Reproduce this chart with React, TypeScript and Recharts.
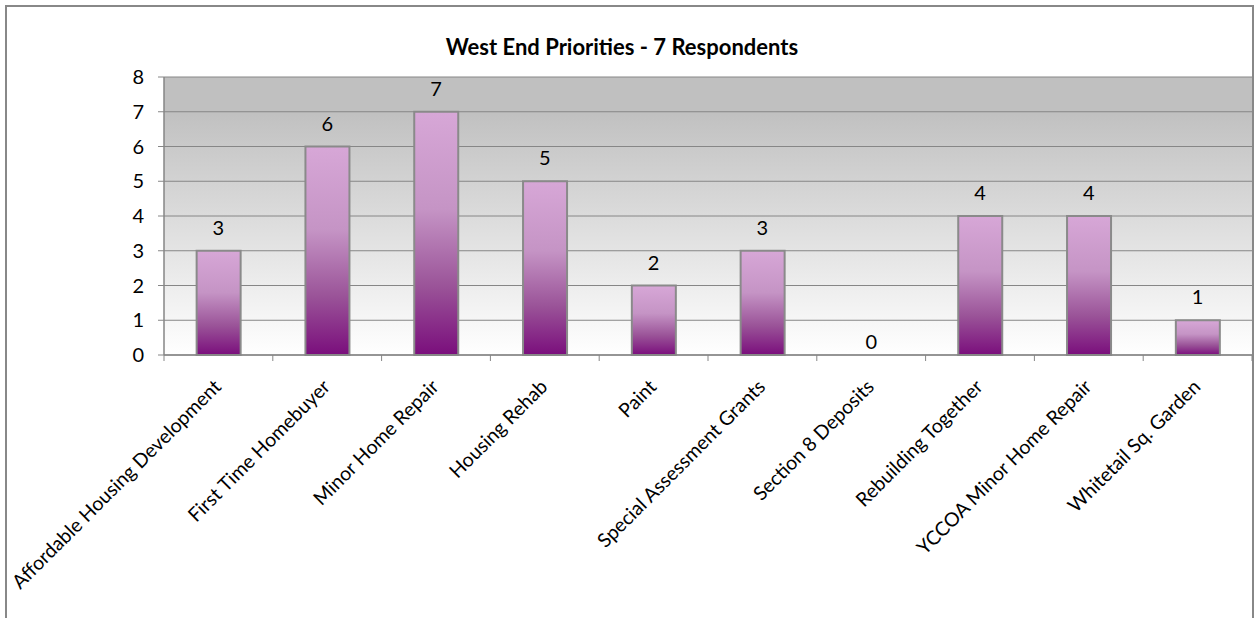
import { Bar, CartesianGrid, ComposedChart, LabelList, Scatter, XAxis, YAxis } from 'recharts';

const categories = [
  'Affordable Housing Development',
  'First Time Homebuyer',
  'Minor Home Repair',
  'Housing Rehab',
  'Paint',
  'Special Assessment Grants',
  'Section 8 Deposits',
  'Rebuilding Together',
  'YCCOA Minor Home Repair',
  'Whitetail Sq. Garden',
];
const responses = [3, 6, 7, 5, 2, 3, 0, 4, 4, 1];
const yTicks = [0, 1, 2, 3, 4, 5, 6, 7, 8];

const data = categories.map((name, i) => ({ name, value: responses[i] }));

const W = 1254;
const H = 618;
const MARGIN = { top: 77, right: 2, bottom: 233, left: 104 };
const Y_WIDTH = 60;
const X_HEIGHT = 30;
const FONT = 'Lato, "Open Sans", sans-serif';
const AXIS = '#868686';

const plotWidth = W - MARGIN.left - Y_WIDTH - MARGIN.right;
const band = plotWidth / categories.length;

// etiqueta inclinada + marca de separación entre categorías
function SlantTick(props: any) {
  const { x, y, payload, index } = props;
  const left = x - band / 2;
  const tx = x + 4;
  const ty = y + 33;
  return (
    <g>
      <line x1={left} y1={y} x2={left} y2={y + 6} stroke={AXIS} strokeWidth={1} />
      {index === categories.length - 1 && (
        <line x1={x + band / 2} y1={y} x2={x + band / 2} y2={y + 6} stroke={AXIS} strokeWidth={1} />
      )}
      <text
        x={tx}
        y={ty}
        textAnchor="end"
        fontSize={19.5}
        fontFamily={FONT}
        fill="#000"
        transform={`rotate(-45 ${tx} ${ty})`}
      >
        {payload.value}
      </text>
    </g>
  );
}

// valor sobre la barra; el 0 queda pegado al eje como en el original
function ValueLabel(props: any) {
  const { x, y, width, height, value } = props;
  const cx = x + width / 2;
  const cy = y + height / 2;
  const gap = value === 0 ? 6 : 16;
  return (
    <text x={cx} y={cy - gap} textAnchor="middle" fontSize={20} fontFamily={FONT} fill="#000">
      {value}
    </text>
  );
}

export default function App() {
  return (
    <div style={{ position: 'absolute', left: 0, top: 0, width: W, height: H, overflow: 'hidden', background: '#fff' }}>
      <div
        style={{
          position: 'absolute',
          left: 5,
          top: 5,
          width: 1245,
          height: 700,
          border: '2px solid #888',
        }}
      />
      <ComposedChart
        width={W}
        height={H}
        data={data}
        margin={MARGIN}
        barCategoryGap="30%"
        style={{ position: 'absolute', left: 0, top: 0 }}
      >
        <defs>
          <linearGradient id="plotBg" x1="0" y1="0" x2="0" y2="1">
            <stop offset="0%" stopColor="#c0c0c0" />
            <stop offset="12%" stopColor="#c0c0c0" />
            <stop offset="100%" stopColor="#ffffff" />
          </linearGradient>
          <linearGradient id="barFill" x1="0" y1="0" x2="0" y2="1">
            <stop offset="0%" stopColor="#d7a7d7" />
            <stop offset="40%" stopColor="#c594c5" />
            <stop offset="72%" stopColor="#9a5398" />
            <stop offset="100%" stopColor="#7a0e7c" />
          </linearGradient>
        </defs>
        <text x={622} y={55} textAnchor="middle" fontSize={22} fontWeight="bold" fontFamily={FONT} fill="#000">
          West End Priorities - 7 Respondents
        </text>
        <CartesianGrid vertical={false} stroke={AXIS} fill="url(#plotBg)" fillOpacity={1} />
        <XAxis
          dataKey="name"
          height={X_HEIGHT}
          interval={0}
          tickLine={false}
          tickSize={0}
          tickMargin={0}
          axisLine={{ stroke: AXIS, strokeWidth: 1.5 }}
          tick={<SlantTick />}
        />
        <YAxis
          width={Y_WIDTH}
          domain={[0, 8]}
          ticks={yTicks}
          interval={0}
          tickSize={6}
          tickMargin={14}
          axisLine={{ stroke: AXIS, strokeWidth: 1.5 }}
          tickLine={{ stroke: AXIS }}
          tick={{ fontSize: 20, fontFamily: FONT, fill: '#000' }}
        />
        <Bar dataKey="value" fill="url(#barFill)" stroke="#8a8a8a" strokeWidth={2} isAnimationActive={false} />
        {/* etiquetas de valor (también para el 0, que no tiene barra) */}
        <Scatter dataKey="value" shape={() => <g />} legendType="none" isAnimationActive={false}>
          <LabelList dataKey="value" content={<ValueLabel />} />
        </Scatter>
      </ComposedChart>
    </div>
  );
}
